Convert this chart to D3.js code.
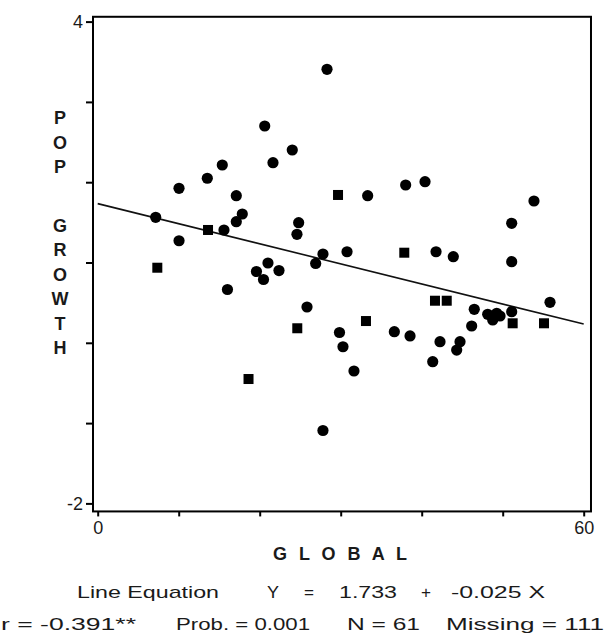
<!DOCTYPE html>
<html><head><meta charset="utf-8">
<script src="https://cdn.jsdelivr.net/npm/d3@7"></script>
<style>body{margin:0;background:#fff}svg{display:block}</style>
</head><body><svg id="c" width="605" height="639"></svg>
<script>
// ---- data ----
const circleGlobal = [28.31,20.62,24.02,21.64,15.38,13.53,10.04,17.11,17.85,17.11,7.16,24.81,24.60,15.59,10.04,27.81,26.91,30.78,19.60,21.02,22.38,20.47,16.02,25.84,29.85,30.28,27.81,31.64,33.33,38.02,40.41,53.86,51.11,41.77,43.90,51.11,36.62,38.56,42.26,41.36,44.73,44.32,46.49,46.17,48.15,49.26,48.77,49.67,51.11,55.84];
const circlePop    = [3.406,2.700,2.401,2.243,2.214,2.049,1.924,1.832,1.604,1.508,1.563,1.496,1.351,1.405,1.271,1.106,0.988,1.134,0.888,0.994,0.900,0.788,0.664,0.446,0.128,-0.049,-1.092,-0.351,1.832,1.965,2.006,1.766,1.488,1.134,1.072,1.010,0.138,0.085,0.014,-0.235,0.014,-0.090,0.417,0.209,0.355,0.367,0.284,0.334,0.387,0.504];
const squareGlobal = [29.67,13.62,7.36,24.64,18.62,37.85,33.12,41.64,43.09,51.23,55.10];
const squarePop    = [1.841,1.405,0.935,0.181,-0.451,1.122,0.271,0.524,0.524,0.243,0.243];
const xTickValues = [0,10,20,30,40,50,60];
const xTickLabels = ["0","","","","","","60"];
const yTickValues = [-2,-1,0,1,2,3,4];
const yTickLabels = ["-2","","","","","","4"];
const intercept = 1.733, slope = -0.025;
const xTitle = "GLOBAL";
const yTitle = "POP GROWTH";
const statsRow1 = ["Line Equation","Y","=","1.733","+","-0.025 X"];
const statsRow2 = ["r = -0.391**","Prob. = 0.001","N = 61","Missing = 111"];

// ---- layout ----
const svg = d3.select("#c");
const x = d3.scaleLinear().domain([0,60]).range([97.7,583.7]);
const y = d3.scaleLinear().domain([-2,4]).range([503.4,21.6]);
const frameX = [x(-0.58), x(60.9)];
const frameY = [y(4.06), y(-2.1)];
const font = "'Liberation Sans', Arial, sans-serif";
const ink = "#1a1a1a";

// frame
svg.append("rect")
  .attr("x", frameX[0]).attr("y", frameY[0])
  .attr("width", frameX[1]-frameX[0]).attr("height", frameY[1]-frameY[0])
  .attr("fill","none").attr("stroke","#000").attr("stroke-width",2);

// y axis
const ya = svg.append("g").attr("transform",`translate(${frameX[0]},0)`)
  .call(d3.axisLeft(y).tickValues(yTickValues).tickSize(7).tickPadding(3)
        .tickFormat((d,i)=>yTickLabels[i]));
ya.attr("font-size",null);
ya.select(".domain").remove();
ya.selectAll("line").attr("stroke","#000").attr("stroke-width",2);
ya.selectAll("text").attr("font-family",font).attr("font-size",18).attr("fill",ink);

// x axis
const xa = svg.append("g").attr("transform",`translate(0,${frameY[1]})`)
  .call(d3.axisBottom(x).tickValues(xTickValues).tickSize(5).tickPadding(5)
        .tickFormat((d,i)=>xTickLabels[i]));
xa.attr("font-size",null);
xa.select(".domain").remove();
xa.selectAll("line").attr("stroke","#000").attr("stroke-width",2);
xa.selectAll("text").attr("font-family",font).attr("font-size",18).attr("fill",ink);

// regression line
svg.append("path")
  .datum([0,60])
  .attr("d", d3.line().x(d=>x(d)).y(d=>y(intercept+slope*d)))
  .attr("stroke","#111").attr("stroke-width",1.6).attr("fill","none");

// markers
svg.append("g").selectAll("circle")
  .data(circleGlobal.map((g,i)=>[g,circlePop[i]]))
  .join("circle")
  .attr("cx",d=>x(d[0])).attr("cy",d=>y(d[1])).attr("r",5.6).attr("fill","#000");
const sq = 10;
svg.append("g").selectAll("rect")
  .data(squareGlobal.map((g,i)=>[g,squarePop[i]]))
  .join("rect")
  .attr("x",d=>x(d[0])-sq/2).attr("y",d=>y(d[1])-sq/2)
  .attr("width",sq).attr("height",sq).attr("fill","#000");

// y title (stacked letters)
const letters = yTitle.split("");
let yy = 118; const ys = [];
letters.forEach((ch,i)=>{ ys.push(yy); yy += (ch===" " ? 34 : 24.5); });
svg.append("g").selectAll("text")
  .data(letters.map((ch,i)=>({ch,y:ys[i]})).filter(d=>d.ch!==" "))
  .join("text")
  .attr("x",60).attr("y",d=>d.y).attr("dy","0.36em")
  .attr("text-anchor","middle").attr("font-family",font).attr("font-weight","bold")
  .attr("font-size",18).attr("fill",ink).text(d=>d.ch);

// x title
svg.append("text").attr("x",273).attr("y",560)
  .attr("font-family",font).attr("font-weight","bold").attr("font-size",18)
  .attr("fill",ink).attr("textLength",134).attr("lengthAdjust","spacing")
  .text(xTitle.split("").join(" "));

// stats rows
const row1X = [[77,142],[267,12],[304,10],[339,58],[421,10],[451,94]];
const row2X = [[1,135],[176,134],[347,73],[446,158]];
svg.append("g").selectAll("text").data(statsRow1).join("text")
  .attr("x",(d,i)=>row1X[i][0]).attr("y",598)
  .attr("textLength",(d,i)=>row1X[i][1]).attr("lengthAdjust","spacingAndGlyphs")
  .attr("font-family",font).attr("font-size",17).attr("fill",ink).text(d=>d);
svg.append("g").selectAll("text").data(statsRow2).join("text")
  .attr("x",(d,i)=>row2X[i][0]).attr("y",630)
  .attr("textLength",(d,i)=>row2X[i][1]).attr("lengthAdjust","spacingAndGlyphs")
  .attr("font-family",font).attr("font-size",17).attr("fill",ink).text(d=>d);
</script>
</body></html>
